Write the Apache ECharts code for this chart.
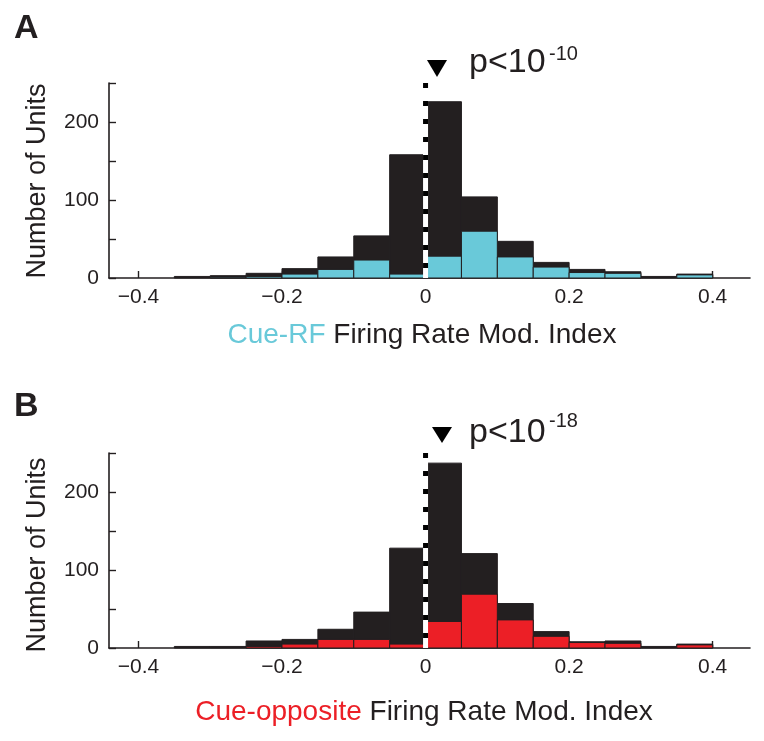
<!DOCTYPE html>
<html>
<head>
<meta charset="utf-8">
<script src="https://cdn.jsdelivr.net/npm/echarts@6/dist/echarts.min.js"></script>
<style>html,body{margin:0;padding:0;background:#fff}#c{width:764px;height:741px}</style>
</head>
<body>
<div id="c"></div>
<script>
// Bin left edges (bin width 0.05)
const binStarts = [-0.40,-0.35,-0.30,-0.25,-0.20,-0.15,-0.10,-0.05,0.00,0.05,0.10,0.15,0.20,0.25,0.30,0.35];
const binWidth = 0.05;
// Panel A: all units (black) and Cue-RF significant units (cyan)
const totalA = [0,2,3,6,12,27,54,158,226,104,47,20,11,8,2,5];
const cueRF  = [0,0,1,2,5,11,23,5,28,60,27,14,7,6,0,4];
// Panel B: all units (black) and Cue-opposite significant units (red)
const totalB = [0,2,2,9,11,24,46,128,237,121,57,21,8,9,2,5];
const cueOpp = [0,0,0,2,5,11,11,5,34,69,36,15,7,6,0,4];
// Axis ticks
const xTicks = [-0.4,-0.2,0,0.2,0.4];
const yTickMarks = [0,50,100,150,200,250];
const yTickLabels = [0,100,200];

const FONT = '"Liberation Sans", Arial, Helvetica, sans-serif';
const INK = '#231f20';
const CYAN = '#69c9d9';
const RED = '#ec1f26';

function hist(counts){
  return counts.map((c,i)=>[binStarts[i], +(binStarts[i]+binWidth).toFixed(2), c]);
}
function renderItem(params, api){
  const x0 = api.value(0), x1 = api.value(1), y = api.value(2);
  if (!y) return null;
  const p0 = api.coord([x0, y]);
  const p1 = api.coord([x1, 0]);
  return {type:'rect', shape:{x:p0[0], y:p0[1], width:p1[0]-p0[0], height:p1[1]-p0[1]},
    style:{fill: api.visual('color'), stroke: INK, lineWidth: 1}};
}
function xAxis(gi){
  return {type:'value', gridIndex:gi, min:-0.441, max:0.452,
    axisLine:{onZero:false, lineStyle:{color:INK, width:1.6}},
    axisTick:{inside:true, length:7, lineStyle:{color:INK, width:1.4}, customValues:xTicks},
    axisLabel:{customValues:xTicks, fontFamily:FONT, fontSize:21, color:INK, margin:9,
      formatter:v=> v<0 ? '\u2212'+Math.abs(v) : String(v)},
    splitLine:{show:false}};
}
function yAxis(gi){
  return {type:'value', gridIndex:gi, min:0, max:250,
    axisLine:{show:true, onZero:false, lineStyle:{color:INK, width:1.6}},
    axisTick:{show:true, inside:true, length:7, lineStyle:{color:INK, width:1.4}, customValues:yTickMarks},
    axisLabel:{customValues:yTickLabels, fontFamily:FONT, fontSize:21, color:INK, margin:10},
    splitLine:{show:false}};
}
function seriesFor(gi, total, sub, color){
  return [
    {type:'custom', xAxisIndex:gi, yAxisIndex:gi, renderItem, data:hist(total), itemStyle:{color:INK}, encode:{x:[0,1], y:2}, z:2},
    {type:'custom', xAxisIndex:gi, yAxisIndex:gi, renderItem, data:hist(sub), itemStyle:{color:color}, encode:{x:[0,1], y:2}, z:3},
    {type:'line', xAxisIndex:gi, yAxisIndex:gi, data:[[0,250],[0,0]], symbol:'none', silent:true, z:4,
      lineStyle:{color:'#fff', width:5, type:'solid'}},
    {type:'line', xAxisIndex:gi, yAxisIndex:gi, data:[[0,250],[0,0]], symbol:'none', silent:true, z:5,
      lineStyle:{color:'#000', width:5, type:[5,13], cap:'butt'}}
  ];
}

const chart = echarts.init(document.getElementById('c'), null, {renderer:'canvas'});
chart.setOption({
  animation:false,
  backgroundColor:'#fff',
  grid:[
    {left:109, top:83, width:641, height:195},
    {left:109, top:453, width:641, height:195}
  ],
  xAxis:[xAxis(0), xAxis(1)],
  yAxis:[yAxis(0), yAxis(1)],
  series:[...seriesFor(0,totalA,cueRF,CYAN), ...seriesFor(1,totalB,cueOpp,RED)],
  graphic:[
    {type:'text', left:14, top:12, style:{text:'A', font:'bold 34px '+FONT, fill:INK}},
    {type:'text', left:14, top:390, style:{text:'B', font:'bold 34px '+FONT, fill:INK}},
    {type:'text', x:38, y:181, rotation:Math.PI/2, style:{text:'Number of Units', font:'27px '+FONT, fill:INK, align:'center', verticalAlign:'middle'}},
    {type:'text', x:38, y:555, rotation:Math.PI/2, style:{text:'Number of Units', font:'27px '+FONT, fill:INK, align:'center', verticalAlign:'middle'}},
    {type:'text', x:422, y:335, style:{text:'{c|Cue-RF}{k| Firing Rate Mod. Index}', align:'center', verticalAlign:'middle',
      rich:{c:{fill:CYAN, font:'28px '+FONT}, k:{fill:INK, font:'28px '+FONT}}}},
    {type:'text', x:424, y:712, style:{text:'{c|Cue-opposite}{k| Firing Rate Mod. Index}', align:'center', verticalAlign:'middle',
      rich:{c:{fill:RED, font:'28px '+FONT}, k:{fill:INK, font:'28px '+FONT}}}},
    {type:'polygon', shape:{points:[[427,60],[447,60],[437,77]]}, style:{fill:'#000'}},
    {type:'text', x:469, y:63, style:{text:'p<10', font:'34px '+FONT, fill:INK, align:'left', verticalAlign:'middle'}},
    {type:'text', x:549, y:54, style:{text:'-10', font:'20px '+FONT, fill:INK, align:'left', verticalAlign:'middle'}},
    {type:'polygon', shape:{points:[[432,427],[452,427],[442,443]]}, style:{fill:'#000'}},
    {type:'text', x:469, y:433, style:{text:'p<10', font:'34px '+FONT, fill:INK, align:'left', verticalAlign:'middle'}},
    {type:'text', x:549, y:421, style:{text:'-18', font:'20px '+FONT, fill:INK, align:'left', verticalAlign:'middle'}}
  ]
});
</script>
</body>
</html>
